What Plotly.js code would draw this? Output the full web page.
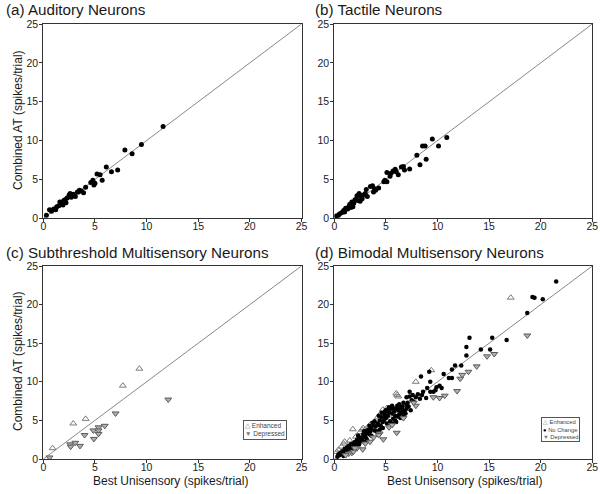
<!DOCTYPE html>
<html>
<head>
<meta charset="utf-8">
<script src="https://cdn.plot.ly/plotly-3.0.1.min.js"></script>
<style>html,body{margin:0;padding:0;background:#fff}#chart{width:600px;height:494px}</style>
</head>
<body>
<div id="chart"></div>
<script>
// ---- Data ----
const tickValues = [0, 5, 10, 15, 20, 25];
const unityLine = [0, 25];

// (a) Auditory neurons
const audX = [0.3,0.6,0.8,1.0,1.2,1.3,1.5,1.6,1.7,1.8,1.9,2.0,2.1,2.2,2.3,2.5,2.6,2.7,2.9,3.0,3.1,3.3,3.4,3.5,3.7,3.9,4.1,4.6,4.8,4.9,5.0,5.2,5.5,5.7,6.1,6.6,7.2,7.9,8.6,9.5,11.6];
const audY = [0.4,1.1,0.9,1.2,1.1,1.5,1.6,2.1,1.9,2.1,1.7,2.3,2.4,2.0,2.6,3.0,3.2,2.7,3.1,2.9,2.8,3.4,3.4,3.6,3.5,3.3,4.0,4.6,4.9,4.3,4.5,5.7,5.6,4.9,6.6,6.0,6.2,8.8,8.3,9.5,11.8];

// (b) Tactile neurons
const tacX = [0.2,0.4,0.5,0.7,0.9,1.0,1.1,1.3,1.4,1.5,1.6,1.7,1.8,1.8,1.9,2.0,2.1,2.2,2.3,2.4,2.5,2.6,2.7,2.8,3.0,3.1,3.2,3.5,3.7,3.8,3.9,4.0,4.3,4.8,4.9,5.1,5.1,5.4,5.5,5.7,5.9,6.0,6.2,6.5,6.7,6.8,7.3,8.0,8.3,8.55,8.8,8.9,9.5,10.1,10.9];
const tacY = [0.3,0.4,0.55,0.7,1.0,0.8,1.3,1.2,1.5,1.8,1.4,2.1,1.8,1.5,2.0,2.4,2.4,2.9,2.3,3.2,2.2,2.8,2.5,3.0,3.2,3.7,2.8,4.1,4.2,3.4,3.8,3.6,3.9,4.7,4.9,4.7,5.9,5.4,5.8,6.1,6.3,6.0,5.6,6.6,6.65,6.2,6.35,8.1,6.9,9.3,9.3,7.6,10.2,9.3,10.4];

// (c) Subthreshold multisensory neurons
const subEnhX = [0.9,2.9,4.1,7.7,9.3];
const subEnhY = [1.4,4.6,5.2,9.5,11.7];
const subDepX = [0.6,2.6,2.65,3.1,3.55,4.0,4.85,4.9,5.35,5.35,5.35,5.95,7.0,12.1];
const subDepY = [0.2,1.9,1.6,2.1,1.7,3.1,3.7,2.6,4.1,3.7,3.25,4.3,5.9,7.7];

// (d) Bimodal multisensory neurons
const biEnhX = [17.1,9.4,7.9,6.0,6.2,6.1,5.1,4.9,4.5,4.2,3.5,3.0,2.8,2.7,2.5,1.8,1.0,0.9,0.7,0.4,0.25,1.5,2.1,3.3,4.7];
const biEnhY = [20.9,11.5,10.0,8.5,8.1,8.3,6.6,6.1,5.9,5.4,4.5,3.8,4.0,3.8,3.5,3.85,2.25,2.0,1.6,1.2,0.9,2.4,2.9,4.2,6.4];
const biNcX = [21.5,19.2,19.4,20.2,18.7,16.7,15.3,15.1,14.2,13.1,12.8,12.8,12.3,11.7,11.4,11.1,11.4,10.6,10.4,9.9,9.8,9.6,9.2,8.4,8.6,9.0,8.5,8.9,9.3,9.3,10.2,7.3,
  7.0,7.3,7.6,7.9,8.1,7.5,7.7,8.3,7.1,
  6.0,6.2,6.4,6.6,6.8,7.0,7.2,6.5,6.3,6.1,6.9,7.4,5.8,5.6,5.5,5.3,5.2,5.0,5.7,5.9,6.0,5.4,4.8,4.9,5.1,4.6,4.4,4.2,4.0,4.5,4.7,3.8,3.9,3.6,3.5,3.3,3.4,3.2,3.0,3.1,2.8,2.9,2.7,2.5,2.6,2.4,2.3,2.2,2.1,2.0,1.9,1.8,1.7,1.6,1.5,1.4,1.3,1.2,1.1,1.0,0.9,0.8,0.7,0.6,0.5,0.4,0.3,
  1.6,2.4,3.6,4.1,4.4,5.6,3.2,2.9,2.2,1.9,0.9,1.2,2.3,2.9,3.7,4.3,4.6,5.0,5.3,5.6,6.3,6.7,
  4.9,5.2,5.7,6.1,6.6,7.0,5.9,6.4,6.7,4.7,4.3,3.9,3.4,3.0];
const biNcY = [23.0,21.0,20.9,20.7,18.9,15.4,15.7,14.2,14.2,15.7,14.5,13.4,12.1,12.1,11.6,10.5,10.5,11.0,9.2,9.3,8.9,8.7,11.3,10.7,8.7,9.2,8.3,7.9,8.7,10.0,9.5,8.7,
  8.0,8.1,8.3,8.0,8.4,7.6,7.4,7.8,7.3,
  6.5,6.3,6.6,6.4,6.2,6.5,6.8,6.0,5.8,5.5,5.9,6.3,6.2,5.9,6.5,6.1,5.6,5.3,5.2,5.0,4.8,4.9,5.0,5.7,4.6,5.4,5.0,4.6,4.2,4.3,4.0,4.4,3.7,4.0,3.6,3.8,3.2,3.4,3.1,2.7,3.2,2.9,2.5,2.8,2.3,2.6,2.2,2.5,1.9,2.2,1.7,2.0,1.6,1.9,1.4,1.7,1.2,1.5,1.0,1.3,0.8,1.0,0.6,0.8,0.5,0.6,0.3,
  1.1,1.9,3.0,3.6,3.8,4.6,2.4,2.2,1.5,1.2,0.4,0.7,3.0,3.6,4.7,5.6,6.0,6.3,6.7,6.9,7.1,7.3,
  6.1,6.4,6.6,6.9,6.8,7.0,5.6,5.3,5.6,4.8,4.4,4.9,4.3,3.6];
const biDepX = [18.7,15.5,14.8,13.8,13.0,12.4,12.2,11.9,10.7,10.2,9.6,7.9,7.7,6.05,5.3,4.75,4.4,4.3,3.46,2.75,2.2,2.0,1.7,1.4,3.0,3.8,5.6,6.7,1.1,1.85];
const biDepY = [16.0,13.6,13.3,12.0,11.3,10.9,10.4,8.8,8.2,7.9,8.0,6.9,7.3,3.4,4.1,2.55,3.3,3.1,2.24,1.25,1.4,1.4,0.8,0.7,2.0,2.8,4.4,5.3,0.5,0.95];

// legend labels
const subLegendNames = ['Enhanced', 'Depressed'];
const biLegendNames = ['Enhanced', 'No Change', 'Depressed'];

// ---- Styles ----
const FONT = 'Liberation Sans, Arial, Helvetica, sans-serif';
const dotMarker = {symbol: 'circle', size: 5, color: '#000'};
const enhMarker = {symbol: 'triangle-up-open', size: 6, color: '#7a7a7a', line: {width: 1, color: '#7a7a7a'}};
const depMarker = {symbol: 'triangle-down', size: 6, color: '#b0b0b0', line: {width: 1, color: '#5a5a5a'}};
const lineStyle = {color: '#888', width: 1};

function pts(x, y, xa, ya, marker, name) {
  return {x: x, y: y, xaxis: xa, yaxis: ya, type: 'scatter', mode: 'markers', marker: marker,
          name: name, showlegend: false, hoverinfo: 'x+y'};
}
function unity(xa, ya) {
  return {x: unityLine, y: unityLine, xaxis: xa, yaxis: ya, mode: 'lines', line: lineStyle, showlegend: false, hoverinfo: 'skip'};
}

const traces = [
  unity('x', 'y'), pts(audX, audY, 'x', 'y', dotMarker, 'Auditory'),
  unity('x2', 'y2'), pts(tacX, tacY, 'x2', 'y2', dotMarker, 'Tactile'),
  unity('x3', 'y3'),
  pts(subEnhX, subEnhY, 'x3', 'y3', enhMarker, subLegendNames[0]),
  pts(subDepX, subDepY, 'x3', 'y3', depMarker, subLegendNames[1]),
  unity('x4', 'y4'),
  pts(biEnhX, biEnhY, 'x4', 'y4', enhMarker, biLegendNames[0]),
  pts(biNcX, biNcY, 'x4', 'y4', Object.assign({}, dotMarker, {size: 4.5}), biLegendNames[1]),
  pts(biDepX, biDepY, 'x4', 'y4', depMarker, biLegendNames[2])
];

function ax(domain, anchor) {
  return {domain: domain, anchor: anchor, range: [0, 25], tickvals: tickValues, showgrid: false, zeroline: false,
          showline: true, mirror: true, linecolor: '#333', linewidth: 1, ticks: 'outside', ticklen: 3,
          tickcolor: '#333', tickfont: {family: FONT, size: 10.5, color: '#222'}, fixedrange: true};
}
function xax(domain, anchor) { return Object.assign(ax(domain, anchor), {ticklabelstandoff: -5}); }
function yax(domain, anchor) { return Object.assign(ax(domain, anchor), {ticklabelstandoff: -1}); }

const W = 600, H = 494;
const xL = [43.3 / W, 301.5 / W], xR = [334.3 / W, 592.3 / W];
const yT = [1 - 218.3 / H, 1 - 24 / H], yB = [1 - 459 / H, 1 - 266 / H];

function ann(text, x, y, size, opts) {
  return Object.assign({text: text, x: x / W, y: 1 - y / H, xref: 'paper', yref: 'paper', showarrow: false,
    font: {family: FONT, size: size, color: '#1a1a1a'}, xanchor: 'center', yanchor: 'middle'}, opts || {});
}

const symEnh = '<span style="color:#777">△</span> ';
const symDep = '<span style="color:#777">▼</span> ';
const symNc = '<span style="color:#000">●</span> ';
function legendBox(lines, x, y, size) {
  return ann(lines.join('<br>'), x, y, size, {xanchor: 'right', yanchor: 'top', align: 'left',
    bordercolor: '#555', borderwidth: 1, borderpad: 1, bgcolor: '#fff',
    font: {family: FONT, size: size, color: '#444'}});
}

const layout = {
  width: W, height: H, margin: {l: 0, r: 0, t: 0, b: 0}, paper_bgcolor: '#fff', plot_bgcolor: '#fff',
  showlegend: false,
  font: {family: FONT},
  xaxis: xax(xL, 'y'), yaxis: yax(yT, 'x'),
  xaxis2: xax(xR, 'y2'), yaxis2: yax(yT, 'x2'),
  xaxis3: xax(xL, 'y3'), yaxis3: yax(yB, 'x3'),
  xaxis4: xax(xR, 'y4'), yaxis4: yax(yB, 'x4'),
  annotations: [
    ann('(a) Auditory Neurons', 4, 9.5, 15.2, {xanchor: 'left'}),
    ann('(b) Tactile Neurons', 313, 9.5, 15.2, {xanchor: 'left'}),
    ann('(c) Subthreshold Multisensory Neurons', 4, 252.5, 15.2, {xanchor: 'left'}),
    ann('(d) Bimodal Multisensory Neurons', 313, 252.5, 15.2, {xanchor: 'left'}),
    ann('Combined AT (spikes/trial)', 18, 120, 12, {textangle: -90}),
    ann('Combined AT (spikes/trial)', 18, 361, 12, {textangle: -90}),
    ann('Best Unisensory (spikes/trial)', 171, 481, 12),
    ann('Best Unisensory (spikes/trial)', 464, 481, 12),
    legendBox([symEnh + subLegendNames[0], symDep + subLegendNames[1]], 287, 420, 6.5),
    legendBox([symEnh + biLegendNames[0], symNc + biLegendNames[1], symDep + biLegendNames[2]], 580, 416.5, 5.8)
  ]
};

Plotly.newPlot('chart', traces, layout, {staticPlot: true, displayModeBar: false});
</script>
</body>
</html>
